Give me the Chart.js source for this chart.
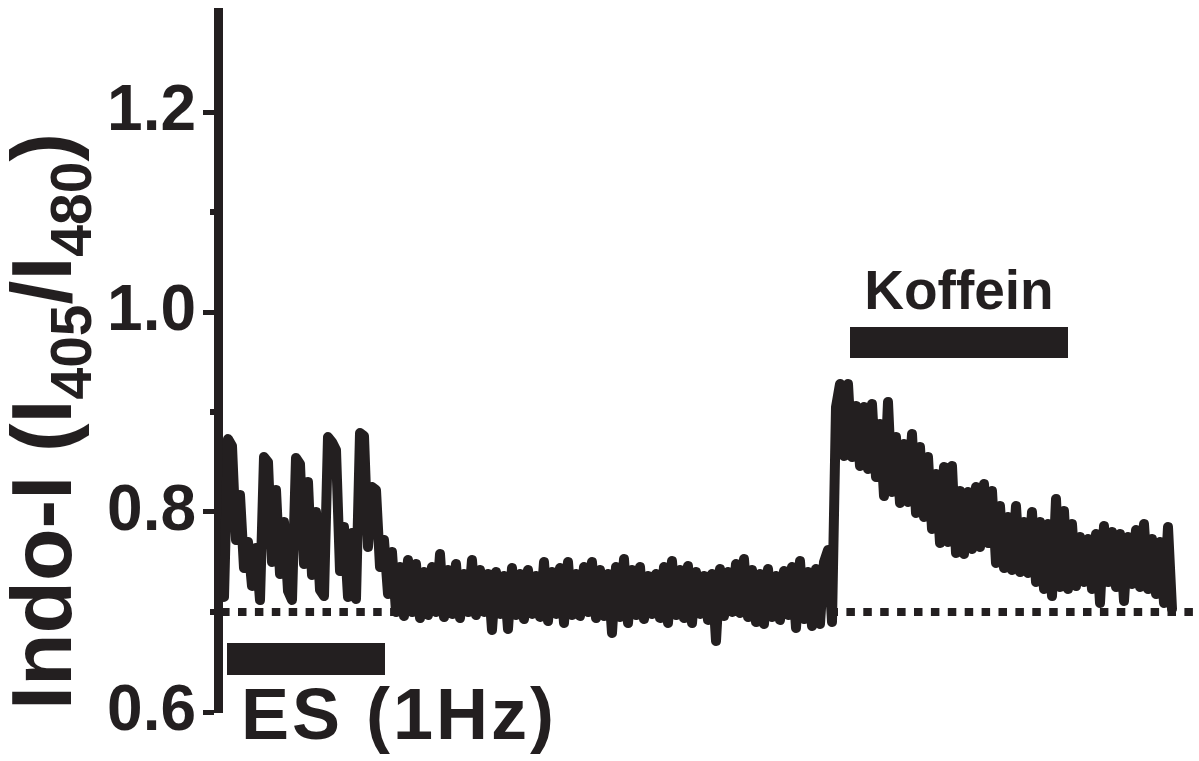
<!DOCTYPE html>
<html>
<head>
<meta charset="utf-8">
<title>Indo-I</title>
<script src="https://cdn.jsdelivr.net/npm/chart.js@4.4.1/dist/chart.umd.min.js"></script>
<style>
  html, body { margin: 0; padding: 0; background: #fff; }
  #wrap { width: 1199px; height: 761px; }
</style>
</head>
<body>
<div id="wrap"><canvas id="trace" width="1199" height="761"></canvas></div>
<script>
const ink = '#231f20';
const fontFamily = '"Liberation Sans", Arial, Helvetica, sans-serif';

// Indo-1 ratio, one sample per second
const ratio = [
  0.715, 0.873, 0.866, 0.772, 0.817, 0.744, 0.770, 0.726, 0.764, 0.712,
  0.855, 0.850, 0.750, 0.822, 0.738, 0.790, 0.721, 0.712, 0.854, 0.848,
  0.748, 0.830, 0.737, 0.800, 0.722, 0.716, 0.875, 0.870, 0.862, 0.741,
  0.785, 0.715, 0.779, 0.713, 0.879, 0.876, 0.765, 0.825, 0.822, 0.745,
  0.772, 0.718, 0.760, 0.700, 0.745, 0.696, 0.752, 0.700, 0.748, 0.694,
  0.740, 0.697, 0.745, 0.700, 0.758, 0.695, 0.742, 0.698, 0.748, 0.694,
  0.738, 0.700, 0.752, 0.697, 0.742, 0.700, 0.738, 0.682, 0.740, 0.698,
  0.736, 0.683, 0.744, 0.697, 0.738, 0.693, 0.742, 0.698, 0.736, 0.695,
  0.750, 0.691, 0.740, 0.698, 0.744, 0.689, 0.750, 0.697, 0.738, 0.696,
  0.745, 0.700, 0.750, 0.694, 0.742, 0.696, 0.738, 0.679, 0.745, 0.695,
  0.753, 0.689, 0.742, 0.697, 0.745, 0.693, 0.736, 0.698, 0.738, 0.694,
  0.745, 0.689, 0.751, 0.697, 0.742, 0.694, 0.746, 0.689, 0.740, 0.698,
  0.736, 0.692, 0.738, 0.671, 0.743, 0.696, 0.740, 0.700, 0.748, 0.699,
  0.753, 0.695, 0.742, 0.690, 0.738, 0.688, 0.743, 0.695, 0.736, 0.692,
  0.741, 0.697, 0.745, 0.684, 0.751, 0.693, 0.740, 0.686, 0.743, 0.688,
  0.750, 0.762, 0.690, 0.905, 0.928, 0.856, 0.928, 0.855, 0.906, 0.846,
  0.905, 0.843, 0.908, 0.835, 0.888, 0.816, 0.910, 0.820, 0.875, 0.809,
  0.868, 0.810, 0.878, 0.799, 0.865, 0.795, 0.855, 0.783, 0.838, 0.769,
  0.845, 0.770, 0.846, 0.759, 0.821, 0.758, 0.820, 0.763, 0.825, 0.765,
  0.828, 0.769, 0.821, 0.749, 0.806, 0.744, 0.795, 0.742, 0.806, 0.740,
  0.790, 0.739, 0.800, 0.730, 0.790, 0.723, 0.788, 0.716, 0.813, 0.725,
  0.801, 0.723, 0.788, 0.726, 0.775, 0.730, 0.773, 0.723, 0.778, 0.709,
  0.786, 0.730, 0.780, 0.725, 0.778, 0.711, 0.775, 0.728, 0.782, 0.725,
  0.788, 0.723, 0.773, 0.718, 0.770, 0.709, 0.785, 0.703
];

const yTicks = [0.6, 0.8, 1.0, 1.2];
const yMinorTicks = [0.7, 0.9, 1.1];
const yMin = 0.6, yMax = 1.3;
const tMin = -1.5, tMax = 243.5;

const restLevel = 0.7;              // dotted resting ratio
const esPeriod = [0.75, 40.25];     // electrical stimulation, 1 Hz
const esBarLevel = 0.653;
const koffeinPeriod = [156.5, 211];
const koffeinBarLevel = 0.9695;

const traceData = ratio.map((v, i) => ({ x: i, y: v }));

// labels for the stimulus bars, the minor ticks and the y title with subscripts
const annotations = {
  id: 'annotations',
  afterDraw(chart) {
    const ctx = chart.ctx;
    const xs = chart.scales.x;
    const ys = chart.scales.y;
    ctx.save();
    ctx.fillStyle = ink;

    // minor ticks
    yMinorTicks.forEach(v => {
      const py = ys.getPixelForValue(v);
      ctx.fillRect(ys.right - 8, py - 3, 5, 6);
    });

    // bar labels
    ctx.textBaseline = 'alphabetic';
    ctx.font = 'bold 72px ' + fontFamily;
    ctx.textAlign = 'left';
    ctx.letterSpacing = '3px';
    ctx.fillText('ES (1Hz)', xs.getPixelForValue(esPeriod[0]) + 14, 739);
    ctx.letterSpacing = '0px';

    ctx.font = 'bold 55px ' + fontFamily;
    ctx.textAlign = 'center';
    const kx = (xs.getPixelForValue(koffeinPeriod[0]) + xs.getPixelForValue(koffeinPeriod[1])) / 2;
    ctx.fillText('Koffein', kx, ys.getPixelForValue(koffeinBarLevel) - 34);

    // y title, rotated, reading bottom to top
    const big = 'bold 86px ' + fontFamily;
    const small = 'bold 57px ' + fontFamily;
    const parts = [['Indo-I (I', false], ['405', true], ['/I', false], ['480', true], [')', false]];
    ctx.translate(71, chart.chartArea.bottom - 2);
    ctx.rotate(-Math.PI / 2);
    ctx.textAlign = 'left';
    let pos = 0;
    parts.forEach(([txt, sub]) => {
      ctx.font = sub ? small : big;
      ctx.fillText(txt, pos, sub ? 20 : 0);
      pos += ctx.measureText(txt).width;
    });
    ctx.restore();
  }
};

new Chart(document.getElementById('trace'), {
  type: 'line',
  data: {
    datasets: [
      {
        label: 'Indo-1',
        data: traceData,
        borderColor: ink,
        borderWidth: 10,
        borderCapStyle: 'round',
        borderJoinStyle: 'round',
        pointRadius: 0,
        tension: 0,
        order: 0
      },
      {
        label: 'rest',
        data: [{ x: tMin, y: restLevel }, { x: tMax, y: restLevel }],
        borderColor: ink,
        borderWidth: 8,
        borderDash: [8.5, 8.4],
        borderDashOffset: 13.8,
        borderCapStyle: 'butt',
        pointRadius: 0,
        order: 2
      },
      {
        label: 'ES',
        data: [{ x: esPeriod[0], y: esBarLevel }, { x: esPeriod[1], y: esBarLevel }],
        borderColor: ink,
        borderWidth: 32,
        borderCapStyle: 'butt',
        pointRadius: 0,
        order: 1
      },
      {
        label: 'Koffein',
        data: [{ x: koffeinPeriod[0], y: koffeinBarLevel }, { x: koffeinPeriod[1], y: koffeinBarLevel }],
        borderColor: ink,
        borderWidth: 31,
        borderCapStyle: 'butt',
        pointRadius: 0,
        order: 1
      }
    ]
  },
  options: {
    responsive: false,
    animation: false,
    devicePixelRatio: 1,
    layout: { padding: { left: 0, right: 1, top: 12, bottom: 49 } },
    plugins: {
      legend: { display: false },
      tooltip: { enabled: false }
    },
    scales: {
      x: {
        type: 'linear',
        display: false,
        min: tMin,
        max: tMax
      },
      y: {
        type: 'linear',
        min: yMin,
        max: yMax,
        afterFit: scale => {
          scale.width = 218;
          scale.paddingTop = 0;
          scale.paddingBottom = 0;
        },
        afterBuildTicks: scale => { scale.ticks = yTicks.map(v => ({ value: v })); },
        border: { display: true, width: 9, color: ink },
        grid: {
          drawOnChartArea: false,
          drawTicks: true,
          tickLength: 15,
          tickWidth: 5,
          tickColor: ink
        },
        ticks: {
          padding: 7,
          color: ink,
          font: { family: fontFamily, size: 64, weight: 'bold' },
          callback: v => v.toFixed(1)
        }
      }
    }
  },
  plugins: [annotations]
});
</script>
</body>
</html>
